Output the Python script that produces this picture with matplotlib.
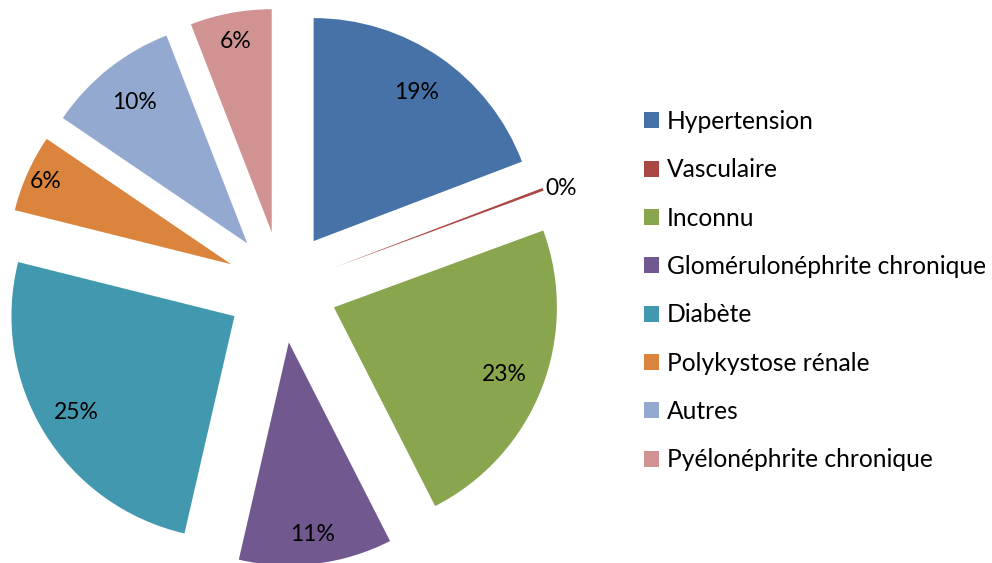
import numpy as np
import matplotlib.pyplot as plt
from matplotlib.patches import Patch

plt.rcParams['font.family'] = ['Lato', 'DejaVu Sans']

categories = ['Hypertension', 'Vasculaire', 'Inconnu',
              'Glomérulonéphrite chronique', 'Diabète', 'Polykystose rénale',
              'Autres', 'Pyélonéphrite chronique']
values = [19.2, 0.2, 23.1, 11.1, 25.3, 5.6, 9.6, 5.9]

colors = ['#4672A8', '#AA4643', '#89A54E', '#71588F',
          '#4198AF', '#DB843D', '#93A9CF', '#D19392']

# distance of each percentage label from its slice corner (fraction of radius)
label_dist = [0.81, 1.01, 0.82, 0.87, 0.83, 0.91, 0.81, 0.87]

fig = plt.figure(figsize=(9.92, 5.63), dpi=100)
ax = fig.add_axes([0, 0, 1, 1])

wedges, _ = ax.pie(values, colors=colors, startangle=90, counterclock=False,
                   explode=[0.25] * len(values), radius=1.0,
                   wedgeprops=dict(linewidth=0))

total = sum(values)
for w, v, d in zip(wedges, values, label_dist):
    th = np.deg2rad((w.theta1 + w.theta2) / 2)
    cx, cy = w.center
    tx = cx + d * np.cos(th)
    ty = cy + d * np.sin(th)
    ha = 'left' if d > 1 else 'center'
    ax.text(tx, ty, '%.0f%%' % (100 * v / total), ha=ha, va='center',
            fontsize=16.5, color='black')

# pixel -> data mapping: 223 px per unit, pie centre at (282, 287)
ax.set_xlim(-282 / 223, (992 - 282) / 223)
ax.set_ylim((287 - 563) / 223, 287 / 223)
ax.set_aspect('equal')
ax.axis('off')

handles = [Patch(facecolor=c, edgecolor='none') for c in colors]
fig.legend(handles, categories, loc='upper left',
           bbox_to_anchor=(644 / 992, 1 - 110 / 563), frameon=False,
           fontsize=17.7, handlelength=0.63, handleheight=0.63,
           handletextpad=0.3, labelspacing=1.03, borderpad=0,
           borderaxespad=0)

fig.savefig('out.png', dpi=100)
